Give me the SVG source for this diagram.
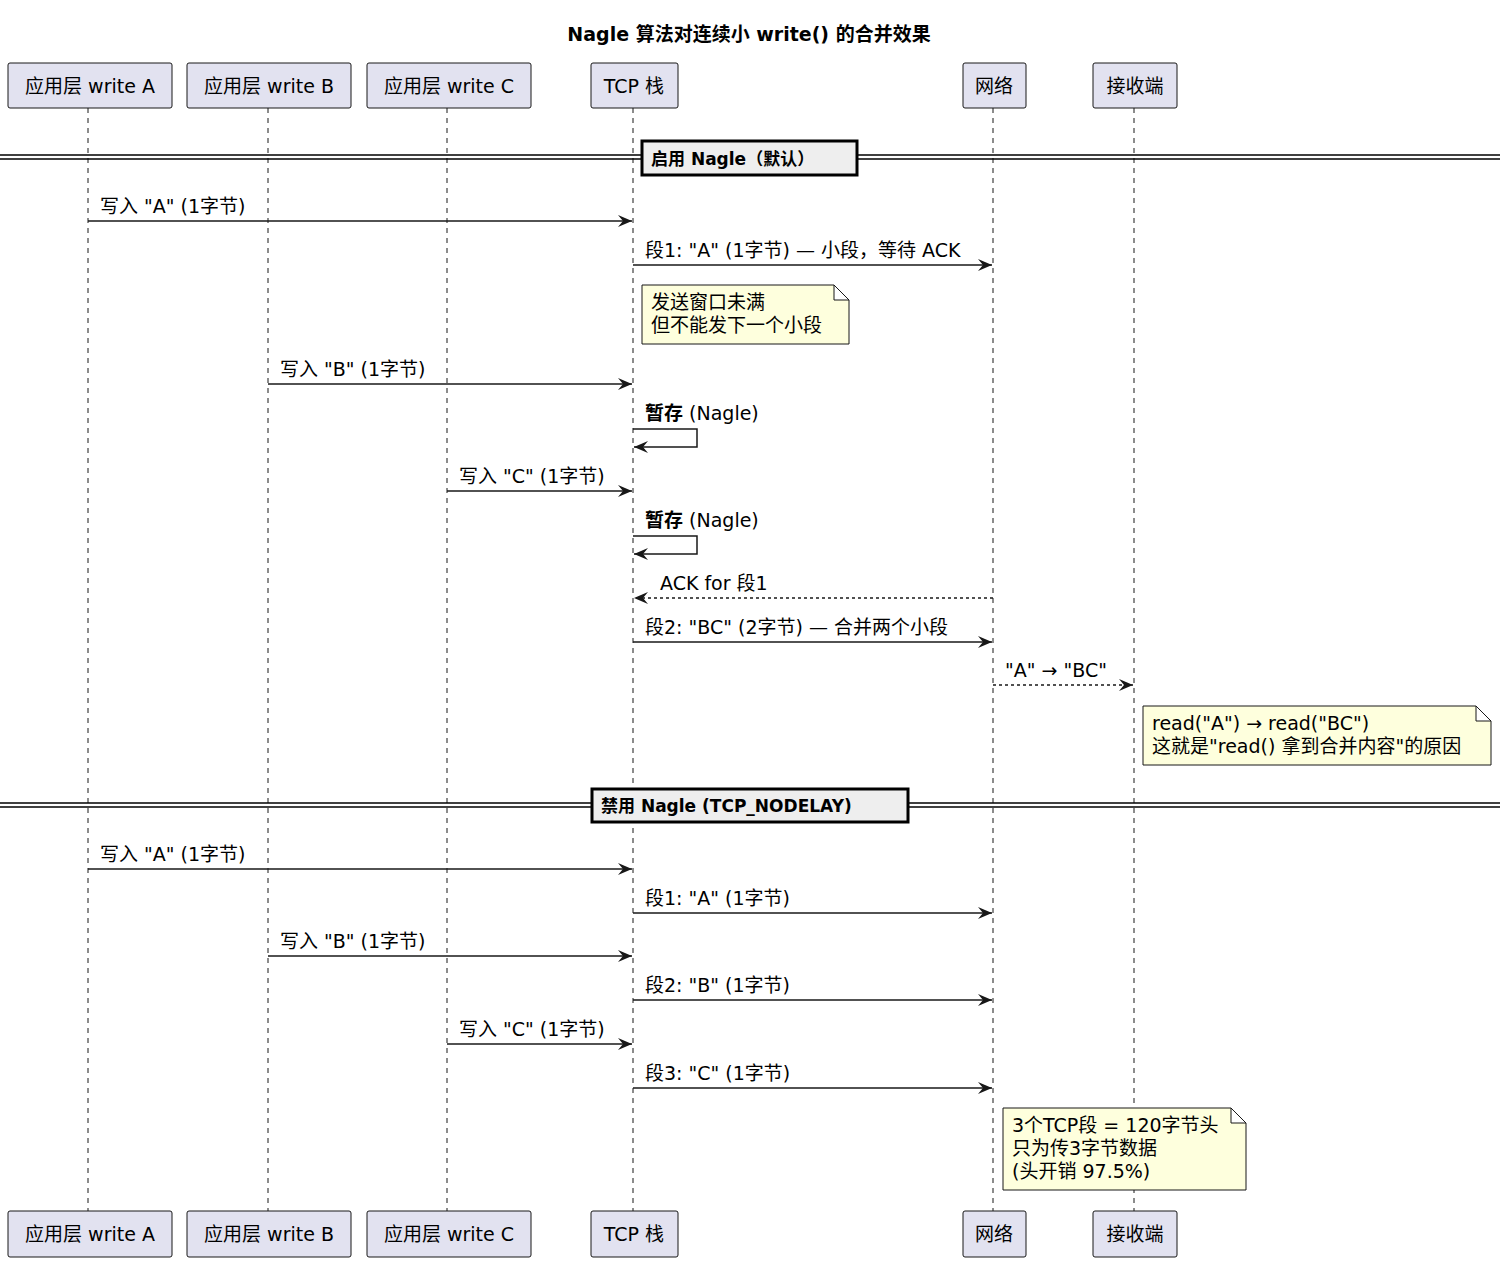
<svg xmlns="http://www.w3.org/2000/svg" width="1508" height="1264" viewBox="0 0 1508 1264">
<style>
text{font-family:"DejaVu Sans","Noto Sans CJK SC",sans-serif;font-size:19px;fill:#000}
.t{font-weight:bold}
.p rect{fill:#E2E2F0;stroke:#181818;stroke-width:1}
.life{stroke:#181818;stroke-width:1;stroke-dasharray:5,5}
.m{stroke:#181818;stroke-width:1.5;fill:none}
.d{stroke-dasharray:3,3}
.note path{fill:#FEFFDD;stroke:#181818;stroke-width:1}
.div line{stroke:#000;stroke-width:1.5}
.div rect{fill:#EEEEEE;stroke:#000;stroke-width:3}
</style>
<defs>
<marker id="a" viewBox="0 0 14 12" refX="14" refY="6" markerWidth="14" markerHeight="12" markerUnits="userSpaceOnUse" orient="auto">
<path d="M0,0 L14,6 L0,12 L5,6 z" fill="#181818"/>
</marker>
</defs>
<rect width="1508" height="1264" fill="#fff"/>
<text class="t" x="749" y="41" text-anchor="middle">Nagle 算法对连续小 write() 的合并效果</text>
<g id="lifelines">
<line class="life" x1="88" y1="108" x2="88" y2="1211"/>
<line class="life" x1="268" y1="108" x2="268" y2="1211"/>
<line class="life" x1="447" y1="108" x2="447" y2="1211"/>
<line class="life" x1="633" y1="108" x2="633" y2="1211"/>
<line class="life" x1="993" y1="108" x2="993" y2="1211"/>
<line class="life" x1="1134" y1="108" x2="1134" y2="1211"/>
</g>
<g id="pA" class="p"><rect x="8" y="63" width="164" height="45" rx="2"/><text x="90" y="93" text-anchor="middle">应用层 write A</text><rect x="8" y="1211" width="164" height="46" rx="2"/><text x="90" y="1241" text-anchor="middle">应用层 write A</text></g>
<g id="pB" class="p"><rect x="187" y="63" width="164" height="45" rx="2"/><text x="269" y="93" text-anchor="middle">应用层 write B</text><rect x="187" y="1211" width="164" height="46" rx="2"/><text x="269" y="1241" text-anchor="middle">应用层 write B</text></g>
<g id="pC" class="p"><rect x="367" y="63" width="164" height="45" rx="2"/><text x="449" y="93" text-anchor="middle">应用层 write C</text><rect x="367" y="1211" width="164" height="46" rx="2"/><text x="449" y="1241" text-anchor="middle">应用层 write C</text></g>
<g id="pT" class="p"><rect x="591" y="63" width="87" height="45" rx="2"/><text x="634" y="93" text-anchor="middle">TCP 栈</text><rect x="591" y="1211" width="87" height="46" rx="2"/><text x="634" y="1241" text-anchor="middle">TCP 栈</text></g>
<g id="pN" class="p"><rect x="963" y="63" width="63" height="45" rx="2"/><text x="994" y="93" text-anchor="middle">网络</text><rect x="963" y="1211" width="63" height="46" rx="2"/><text x="994" y="1241" text-anchor="middle">网络</text></g>
<g id="pR" class="p"><rect x="1093" y="63" width="84" height="45" rx="2"/><text x="1135" y="93" text-anchor="middle">接收端</text><rect x="1093" y="1211" width="84" height="46" rx="2"/><text x="1135" y="1241" text-anchor="middle">接收端</text></g>
<g id="div1" class="div"><line x1="0" y1="155" x2="1500" y2="155"/><line x1="0" y1="159" x2="1500" y2="159"/><rect x="642" y="141" width="215" height="34"/><text class="t" x="651" y="165" style="font-size:17px">启用 Nagle（默认）</text></g>
<g id="div2" class="div"><line x1="0" y1="803" x2="1500" y2="803"/><line x1="0" y1="807" x2="1500" y2="807"/><rect x="592" y="789" width="316" height="33"/><text class="t" x="601" y="812" style="font-size:17px">禁用 Nagle (TCP_NODELAY)</text></g>
<g id="connectors">
<line class="m" x1="88" y1="221" x2="632" y2="221" marker-end="url(#a)"/><text x="100" y="213">写入 "A" (1字节)</text>
<line class="m" x1="633" y1="265" x2="992" y2="265" marker-end="url(#a)"/><text x="645" y="257">段1: "A" (1字节) — 小段，等待 ACK</text>
<line class="m" x1="268" y1="384" x2="632" y2="384" marker-end="url(#a)"/><text x="280" y="376">写入 "B" (1字节)</text>
<path class="m" d="M633,429 H697 V447 H634" marker-end="url(#a)"/><text x="645" y="420"><tspan font-weight="bold">暂存</tspan> (Nagle)</text>
<line class="m" x1="447" y1="491" x2="632" y2="491" marker-end="url(#a)"/><text x="459" y="483">写入 "C" (1字节)</text>
<path class="m" d="M633,536 H697 V554 H634" marker-end="url(#a)"/><text x="645" y="527"><tspan font-weight="bold">暂存</tspan> (Nagle)</text>
<line class="m d" x1="993" y1="598" x2="634" y2="598" marker-end="url(#a)"/><text x="660" y="590">ACK for 段1</text>
<line class="m" x1="633" y1="642" x2="992" y2="642" marker-end="url(#a)"/><text x="645" y="634">段2: "BC" (2字节) — 合并两个小段</text>
<line class="m d" x1="993" y1="685" x2="1133" y2="685" marker-end="url(#a)"/><text x="1005" y="677">"A" → "BC"</text>
<line class="m" x1="88" y1="869" x2="632" y2="869" marker-end="url(#a)"/><text x="100" y="861">写入 "A" (1字节)</text>
<line class="m" x1="633" y1="913" x2="992" y2="913" marker-end="url(#a)"/><text x="645" y="905">段1: "A" (1字节)</text>
<line class="m" x1="268" y1="956" x2="632" y2="956" marker-end="url(#a)"/><text x="280" y="948">写入 "B" (1字节)</text>
<line class="m" x1="633" y1="1000" x2="992" y2="1000" marker-end="url(#a)"/><text x="645" y="992">段2: "B" (1字节)</text>
<line class="m" x1="447" y1="1044" x2="632" y2="1044" marker-end="url(#a)"/><text x="459" y="1036">写入 "C" (1字节)</text>
<line class="m" x1="633" y1="1088" x2="992" y2="1088" marker-end="url(#a)"/><text x="645" y="1080">段3: "C" (1字节)</text>
</g>
<g id="note1" class="note"><path d="M642,285 H834 L849,300 V344 H642 Z M834,285 V300 H849"/><text x="651" y="309">发送窗口未满</text><text x="651" y="332">但不能发下一个小段</text></g>
<g id="note2" class="note"><path d="M1143,706 H1476 L1491,721 V765 H1143 Z M1476,706 V721 H1491"/><text x="1152" y="730">read("A") → read("BC")</text><text x="1152" y="753">这就是"read() 拿到合并内容"的原因</text></g>
<g id="note3" class="note"><path d="M1003,1108 H1231 L1246,1123 V1190 H1003 Z M1231,1108 V1123 H1246"/><text x="1012" y="1132">3个TCP段 = 120字节头</text><text x="1012" y="1155">只为传3字节数据</text><text x="1012" y="1178">(头开销 97.5%)</text></g>
</svg>
